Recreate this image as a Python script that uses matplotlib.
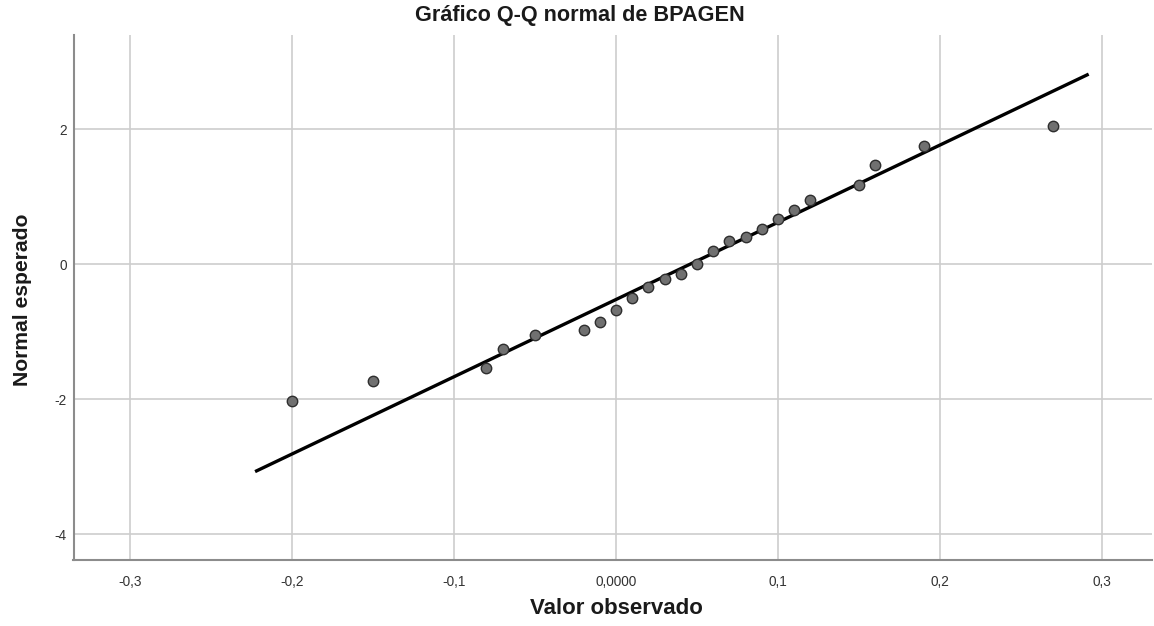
import matplotlib
matplotlib.use("Agg")
import matplotlib.pyplot as plt
from matplotlib.ticker import FixedLocator, FixedFormatter

# Data
observed = [-0.20, -0.15, -0.08, -0.07, -0.05, -0.02, -0.01, 0.00, 0.01, 0.02,
            0.03, 0.04, 0.05, 0.06, 0.07, 0.08, 0.09, 0.10, 0.11, 0.12,
            0.15, 0.16, 0.19, 0.27]
expected = [-2.03, -1.73, -1.53, -1.25, -1.05, -0.97, -0.85, -0.67, -0.50, -0.33,
            -0.21, -0.14, 0.01, 0.20, 0.34, 0.41, 0.52, 0.67, 0.81, 0.96,
            1.17, 1.47, 1.75, 2.05]
ref_line_x = [-0.2228, 0.2918]
ref_line_y = [-3.07, 2.82]

xticks = [-0.3, -0.2, -0.1, 0.0, 0.1, 0.2, 0.3]
xticklabels = ["-0,3", "-0,2", "-0,1", "0,0000", "0,1", "0,2", "0,3"]
yticks = [-4, -2, 0, 2]
yticklabels = ["-4", "-2", "0", "2"]

title = "Gráfico Q-Q normal de BPAGEN"
xlabel = "Valor observado"
ylabel = "Normal esperado"

plt.rcParams['font.family'] = ['Liberation Sans', 'DejaVu Sans']

W, H = 1154, 626
fig = plt.figure(figsize=(W / 100, H / 100), dpi=100)
left, right, top, bottom = 73.5, 1152, 35, 560
ax = fig.add_axes([left / W, 1 - bottom / H, (right - left) / W, (bottom - top) / H])

ax.set_xlim(-0.3349, 0.3309)
ax.set_ylim(-4.38, 3.40)

ax.xaxis.set_major_locator(FixedLocator(xticks))
ax.xaxis.set_major_formatter(FixedFormatter(xticklabels))
ax.yaxis.set_major_locator(FixedLocator(yticks))
ax.yaxis.set_major_formatter(FixedFormatter(yticklabels))

ax.grid(True, color="#cdcdcd", linewidth=1.2, zorder=0)
ax.set_axisbelow(True)

for s in ["top", "right"]:
    ax.spines[s].set_visible(False)
for s in ["left", "bottom"]:
    ax.spines[s].set_color("#8c8c8c")
    ax.spines[s].set_linewidth(1.5)

ax.tick_params(axis="x", length=0, pad=11, labelsize=9.8, labelcolor="#333333")
ax.tick_params(axis="y", length=0, pad=5, labelsize=9.8, labelcolor="#333333")

ax.plot(ref_line_x, ref_line_y, color="black", linewidth=2.4, solid_capstyle="butt", zorder=3)
ax.plot(observed, expected, linestyle="none", marker="o", markersize=7.5,
        markerfacecolor="#707070", markeredgecolor="#2e2e2e", markeredgewidth=1.0, zorder=4)

fig.text(580 / W, 1 - 16 / H, title, ha="center", va="center",
         fontsize=15.6, fontweight="bold", color="#1a1a1a")
fig.text(616 / W, 1 - 609 / H, xlabel, ha="center", va="center",
         fontsize=16, fontweight="bold", color="#1a1a1a")
fig.text(23 / W, 1 - 300 / H, ylabel, ha="center", va="center", rotation=90,
         fontsize=15.2, fontweight="bold", color="#1a1a1a")

fig.savefig("out.png", dpi=100, facecolor="white")
